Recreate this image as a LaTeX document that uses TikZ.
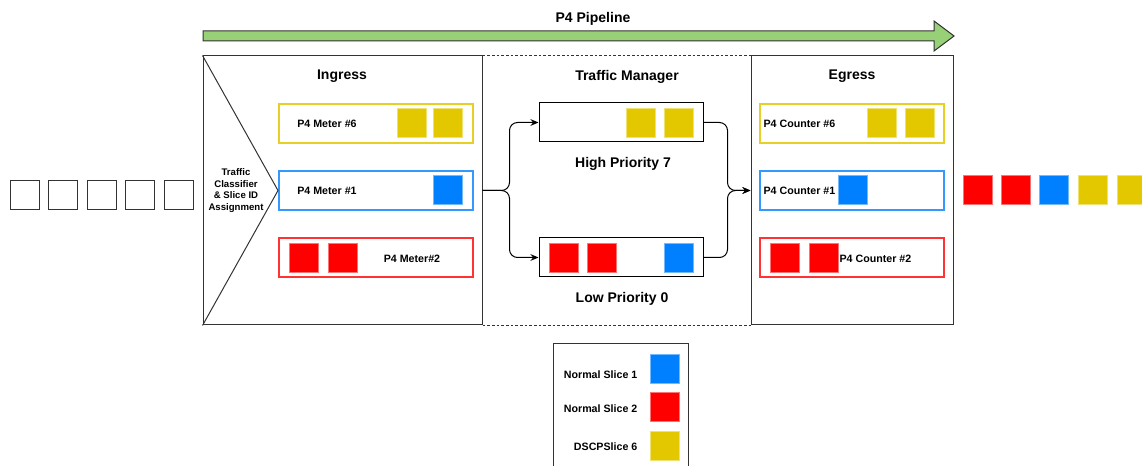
\documentclass[tikz,border=0pt]{standalone}
\usepackage{fontspec}
\setmainfont{Liberation Sans}
\usetikzlibrary{arrows.meta}
\definecolor{sliceY}{HTML}{E3C800}
\definecolor{sliceB}{HTML}{007FFF}
\definecolor{sliceR}{HTML}{FF0000}
\definecolor{pipeG}{HTML}{97D077}
\definecolor{edgegray}{HTML}{333333}
\begin{document}
\begin{tikzpicture}[x=0.75pt,y=-0.75pt,
  pkt/.style={minimum size=21.75pt, inner sep=0pt, draw=#1!55!white, fill=#1, line width=0.4pt},
  emptysq/.style={minimum size=21.75pt, inner sep=0pt, draw=edgegray, fill=white, line width=0.75pt},
  meter/.style={draw=#1, line width=1.5pt, minimum width=145.5pt, minimum height=29.25pt, inner sep=0pt},
  queue/.style={draw=black, line width=0.75pt, minimum width=123pt, minimum height=29.25pt, inner sep=0pt},
  stage/.style={draw=edgegray, line width=0.75pt, minimum height=201.75pt, inner sep=0pt},
  title/.style={font=\fontsize{10.5}{12}\selectfont\bfseries, inner sep=1pt},
  lbl/.style={font=\fontsize{8}{9.5}\selectfont\bfseries, inner sep=1pt},
  small/.style={font=\fontsize{7.2}{8.6}\selectfont\bfseries, inner sep=1pt, align=center},
  flow/.style={draw=black, line width=0.75pt, rounded corners=6pt, -{Stealth[length=6pt,width=5pt]}}
]
\useasboundingbox (0,0) rectangle (1142,466);

% pipeline arrow
\draw[fill=pipeG, draw=edgegray, line width=0.75pt]
  (203,31) -- (934,31) -- (934,21) -- (954,36) -- (934,51) -- (934,41) -- (203,41) -- cycle;
\node[title] (pipe) at (593,18.5) {P4 Pipeline};

% stages
\node[stage, minimum width=209.25pt] (ing) at (342.5,190.5) {};
\node[stage, minimum width=151.5pt] (eg) at (852,190.5) {};
\draw[edgegray, line width=0.75pt, dash pattern=on 2pt off 1.5pt] (ing.north east) -- (eg.north west);
\draw[edgegray, line width=0.75pt, dash pattern=on 2pt off 1.5pt] (ing.south east) -- (eg.south west);
\node[title] (tIng) at (342,76.5) {Ingress};
\node[title] (tTM) at (627,76.5) {Traffic Manager};
\node[title] (tEg) at (852,76.5) {Egress};

% ingress meters
\node[meter=sliceY!85!white] (m6) at (376,123.5) {};
\node[meter=sliceB!80!white] (m1) at (376,190.5) {};
\node[meter=sliceR!80!white] (m2) at (376,257.5) {};
\node[lbl] (m6t) at (327,123.5) {P4 Meter \#6};
\node[lbl] (m1t) at (327,190.5) {P4 Meter \#1};
\node[lbl] (m2t) at (412,258.5) {P4 Meter\#2};
\node[pkt=sliceY] (m6a) at (411.5,122.5) {};
\node[pkt=sliceY] (m6b) at (447.5,122.5) {};
\node[pkt=sliceB] (m1a) at (448,190) {};
\node[pkt=sliceR] (m2a) at (303.5,257.5) {};
\node[pkt=sliceR] (m2b) at (342.5,257.5) {};

% classifier wedge
\draw[edgegray, line width=0.75pt] (ing.north west) -- (m1.west) -- (ing.south west);
\node[small] (cls) at (236,190.5) {Traffic\\Classifier\\\& Slice ID\\Assignment};

% traffic manager queues
\node[queue] (hq) at (621,122.5) {};
\node[queue] (lq) at (621,257.5) {};
\node[pkt=sliceY] (hqa) at (640.5,123) {};
\node[pkt=sliceY] (hqb) at (678.5,123) {};
\node[pkt=sliceR] (lqa) at (563.5,257.5) {};
\node[pkt=sliceR] (lqb) at (601.5,257.5) {};
\node[pkt=sliceB] (lqc) at (678.5,257.5) {};
\node[title] (hqt) at (623,163.5) {High Priority 7};
\node[title] (lqt) at (622,298.5) {Low Priority 0};

\draw[flow] (ing.east) -- ++(27,0) |- (hq.west);
\draw[flow] (ing.east) -- ++(27,0) |- (lq.west);
\draw[flow] (hq.east) -- ++(24,0) |- (eg.west);
\draw[flow] (lq.east) -- ++(24,0) |- (eg.west);

% egress counters
\node[meter=sliceY!85!white, minimum width=138pt] (c6) at (852,123.5) {};
\node[meter=sliceB!80!white, minimum width=138pt] (c1) at (852,190.5) {};
\node[meter=sliceR!80!white, minimum width=138pt] (c2) at (852,257.5) {};
\node[lbl, anchor=west] (c6t) at (762,123.5) {P4 Counter \#6};
\node[lbl, anchor=west] (c1t) at (762,190.5) {P4 Counter \#1};
\node[lbl, anchor=west] (c2t) at (838,258.5) {P4 Counter \#2};
\node[pkt=sliceY] (c6a) at (881.5,122.5) {};
\node[pkt=sliceY] (c6b) at (919.5,122.5) {};
\node[pkt=sliceB] (c1a) at (852.5,190) {};
\node[pkt=sliceR] (c2a) at (784.5,257.5) {};
\node[pkt=sliceR] (c2b) at (823.5,257.5) {};

% incoming packets
\node[emptysq] (in1) at (24.5,195.5) {};
\node[emptysq] (in2) at (63,195.5) {};
\node[emptysq] (in3) at (101.5,195.5) {};
\node[emptysq] (in4) at (139.5,195.5) {};
\node[emptysq] (in5) at (178.5,195.5) {};

% outgoing packets
\node[pkt=sliceR] (o1) at (977.5,190) {};
\node[pkt=sliceR] (o2) at (1015.5,190) {};
\node[pkt=sliceB] (o3) at (1053.5,190) {};
\node[pkt=sliceY] (o4) at (1092.5,190) {};
\node[pkt=sliceY] (o5) at (1131.5,190) {};

% legend
\node[draw=edgegray, line width=0.75pt, minimum width=101.25pt, minimum height=102pt, inner sep=0pt] (leg) at (620.5,412) {};
\node[pkt=sliceB] (k1) at (664.5,368.5) {};
\node[pkt=sliceR] (k2) at (664.5,406.5) {};
\node[pkt=sliceY] (k3) at (664.5,445.5) {};
\node[lbl, anchor=east] (k1t) at (639,374.5) {Normal Slice 1};
\node[lbl, anchor=east] (k2t) at (639,408.5) {Normal Slice 2};
\node[lbl, anchor=east] (k3t) at (639,446.5) {DSCPSlice 6};
\end{tikzpicture}
\end{document}
